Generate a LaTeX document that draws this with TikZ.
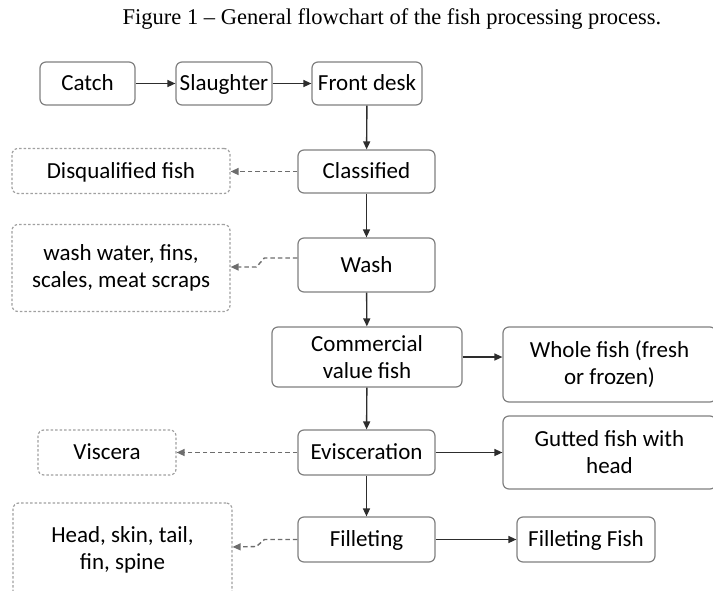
\documentclass[tikz,border=0pt]{standalone}
\usepackage{fontspec}
\setmainfont{Liberation Serif}
\newfontfamily\boxfont{Carlito}
\usetikzlibrary{arrows.meta}

\definecolor{boxgrey}{RGB}{128,128,128}
\definecolor{dashgrey}{RGB}{160,160,160}
\definecolor{linegrey}{RGB}{45,45,45}

\begin{document}
\begin{tikzpicture}[x=1pt,y=-1pt,line width=1.2pt,
  procbox/.style={draw=boxgrey,rounded corners=6pt,align=center,inner sep=0pt,
    font=\boxfont\fontsize{23}{27}\selectfont},
  oneline/.style={text height=17pt,text depth=2.5pt},
  wastebox/.style={procbox,draw=dashgrey,dash pattern=on 2.5pt off 2pt},
  flowarrow/.style={draw=linegrey,line width=1.4pt,-{Triangle[length=8pt,width=7pt]}},
  wastearrow/.style={draw=boxgrey!85!black,line width=1.4pt,dash pattern=on 4.5pt off 3pt,-{Triangle[length=8pt,width=7pt]}}]

\useasboundingbox (0,0) rectangle (713,590);

\node (title) at (392,19) {\fontsize{22.5}{26}\selectfont Figure 1 -- General flowchart of the fish processing process.};

% main line
\node [procbox,oneline,minimum width=95,minimum height=43] (catch) at (87.5,83.5) {Catch};
\node [procbox,oneline,minimum width=96,minimum height=43] (slaughter) at (224,83.5) {Slaughter};
\node [procbox,oneline,minimum width=110,minimum height=43] (frontdesk) at (367,83.5) {Front desk};
\node [procbox,oneline,minimum width=137,minimum height=43] (classified) at (366.5,171.5) {Classified};
\node [procbox,oneline,minimum width=137,minimum height=54] (wash) at (366.5,265) {Wash};
\node [procbox,minimum width=190,minimum height=60] (commercial) at (367,357) {Commercial\\value fish};
\node [procbox,oneline,minimum width=137,minimum height=45] (evisc) at (366.5,452.5) {Evisceration};
\node [procbox,oneline,minimum width=137,minimum height=45] (fillet) at (366.5,539.5) {Filleting};

% products
\node [procbox,minimum width=213,minimum height=75] (wholefish) at (609.5,364.5) {Whole fish (fresh\\or frozen)};
\node [procbox,minimum width=213,minimum height=73] (guttedfish) at (609.5,452.5) {Gutted fish with\\head};
\node [procbox,oneline,minimum width=138,minimum height=45] (filletfish) at (586,539.5) {Filleting Fish};

% waste
\node [wastebox,oneline,minimum width=218,minimum height=45] (disq) at (121,171) {Disqualified fish};
\node [wastebox,minimum width=218,minimum height=87] (washwaste) at (121,268) {wash water, fins,\\scales, meat scraps};
\node [wastebox,oneline,minimum width=138,minimum height=45] (viscera) at (107,452.5) {Viscera};
\node [wastebox,minimum width=219,minimum height=94] (filletwaste) at (122.5,550) {Head, skin, tail,\\fin, spine};

\draw [flowarrow] (catch) -- (slaughter);
\draw [flowarrow] (slaughter) -- (frontdesk);
\draw [flowarrow] (frontdesk) -- (classified);
\draw [flowarrow] (classified) -- (wash);
\draw [flowarrow] (wash) -- (commercial);
\draw [flowarrow] (commercial) -- (evisc);
\draw [flowarrow] (evisc) -- (fillet);

\draw [flowarrow] (commercial) -- (wholefish.west |- commercial);
\draw [flowarrow] (evisc) -- (guttedfish.west |- evisc);
\draw [flowarrow] (fillet) -- (filletfish);

\draw [wastearrow] (classified) -- (disq.east |- classified);
\draw [wastearrow] ([yshift=7pt]wash.west) -- ++(-33,0) -- ++(-8,9) -- ([yshift=1pt]washwaste.east);
\draw [wastearrow] (evisc) -- (viscera);
\draw [wastearrow] (fillet.west) -- ++(-33,0) -- ++(-8,7) -- ([yshift=3pt]filletwaste.east);

\end{tikzpicture}
\end{document}
